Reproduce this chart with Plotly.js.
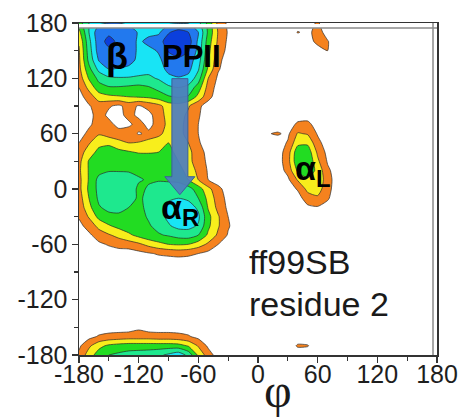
<!DOCTYPE html>
<html>
<head>
<meta charset="utf-8">
<script src="https://cdn.plot.ly/plotly-3.0.1.min.js"></script>
<style>
  html, body { margin: 0; padding: 0; background: #ffffff; }
  #plot { width: 462px; height: 419px; }
</style>
</head>
<body>
<div id="plot"></div>
<script>
// Backbone dihedral grid (degrees)
const phiGrid = [-180, -170, -160, -150, -140, -130, -120, -110, -100, -90, -80, -70, -60, -50, -40, -30, -20,
                 20, 30, 40, 50, 60, 70, 80];
const psiGrid = [180, 170, 160, 150, 140, 130, 120, 110, 100, 90, 80, 70, 60, 50, 40, 30, 20, 10, 0,
                 -10, -20, -30, -40, -50, -60, -70, -80, -90, -100, -110, -120, -130, -140, -150, -160, -170, -180];

// Population level at each (psi, phi) grid node, one row per psi value (top row psi = 180)
const populationLevel = [
  [3.0,4.5,5.3,5.5,5.5,5.3,5.2,5.0,5.0,5.3,5.4,5.4,4.8,3.2,1.2,0.3,0, 0,0,0,0.2,0.6,0,0],
  [2.2,4.5,6.2,6.3,6.3,6.0,5.4,5.2,5.3,6.4,6.9,6.5,5.5,3.3,1.4,0.4,0, 0,0,0.55,0.3,0.8,0.2,0],
  [1.6,4.2,6.1,6.8,6.3,6.1,5.3,5.8,6.1,7.0,7.5,7.0,5.3,3.0,1.3,0.3,0, 0,0,0,0.2,0.7,0.55,0],
  [1.4,4.0,6.0,6.3,6.3,6.1,5.3,5.2,5.6,6.6,7.0,6.6,5.2,2.8,1.1,0.2,0, 0,0,0,0,0.2,0.5,0],
  [1.3,3.8,5.6,6.2,6.2,6.0,5.2,5.0,5.3,6.0,6.3,6.0,5.0,2.6,0.8,0,0, 0,0,0,0,0,0,0],
  [1.2,3.2,4.8,5.5,5.4,5.2,5.0,4.8,5.0,5.8,6.1,5.8,4.6,2.3,0.6,0,0, 0,0,0,0,0,0,0],
  [0.9,2.6,3.8,4.3,4.4,4.4,4.3,4.3,4.6,5.2,5.4,5.2,4.0,1.5,0.3,0,0, 0,0,0,0,0,0,0],
  [0.5,1.8,3.1,3.4,3.4,3.3,3.2,3.4,3.8,4.3,4.5,4.2,3.0,1.1,0.1,0,0, 0,0,0,0,0,0,0],
  [0.1,1.0,2.0,2.3,2.4,2.5,2.6,2.7,3.0,3.4,3.6,3.4,2.2,0.8,0,0,0, 0,0,0,0,0,0,0],
  [0,0.4,1.0,0.6,0.3,0.9,0.4,0.8,1.2,2.0,2.1,1.6,0.7,0.1,0,0,0, 0,0,0,0,0,0,0],
  [0,0.2,0.9,0.3,0.2,0.8,0.3,0.2,1.0,1.9,1.9,1.3,0.6,0,0,0,0, 0,0,0,0,0,0,0],
  [0,0.3,1.0,0.8,0.2,0.3,0.9,0.2,0.9,1.8,1.8,1.2,0.5,0,0,0,0, 0,0,0.7,0.8,0,0,0],
  [0,0.8,1.4,1.0,0.9,1.1,0.4,0.7,1.2,2.0,1.8,1.2,0.5,0,0,0,0, 0.6,0.3,1.6,1.4,0.4,0,0],
  [0.5,1.4,2.2,2.3,1.8,1.5,1.6,2.0,2.2,2.5,2.3,1.5,0.6,0.1,0,0,0, 0,0.6,2.2,2.3,0.8,0,0],
  [1.0,2.0,2.8,3.0,2.8,2.6,2.4,2.4,2.5,2.6,2.4,1.8,0.9,0.2,0,0,0, 0,1.0,3.2,3.1,1.3,0.2,0],
  [1.2,2.6,3.3,3.4,3.4,3.3,3.3,3.2,3.1,2.8,2.5,1.8,1.0,0.3,0,0,0, 0,1.1,3.3,3.4,1.7,0.4,0],
  [1.3,2.6,3.2,3.4,3.4,3.4,3.3,3.3,3.2,3.0,2.8,2.2,1.2,0.4,0,0,0, 0,0.8,2.7,3.2,2.2,0.7,0],
  [1.2,2.6,3.8,4.3,4.3,4.0,3.6,3.4,3.4,3.3,3.2,2.5,1.5,0.5,0,0,0, 0,0.3,1.6,2.3,2.3,0.9,0],
  [1.2,2.7,3.8,4.4,4.4,4.1,3.3,3.6,4.0,4.2,4.2,3.9,3.0,1.8,0.8,0,0, 0,0,0.6,1.8,2.0,0.8,0],
  [1.0,2.5,3.7,4.3,4.3,4.1,3.3,3.8,4.2,4.4,4.5,4.3,3.5,2.2,1.0,0.2,0, 0,0,0.1,1.0,1.3,0.6,0],
  [0.8,2.2,3.4,3.8,3.8,3.5,3.3,3.7,4.3,4.7,5.0,5.0,4.3,2.4,1.2,0.3,0, 0,0,0,0.3,0.4,0.2,0],
  [0.6,1.6,2.8,3.2,3.3,3.2,3.2,3.6,4.2,4.7,5.3,5.4,4.7,2.8,1.6,0.5,0, 0,0,0,0,0,0,0],
  [0.2,0.9,1.8,2.4,2.8,3.1,3.2,3.4,3.8,4.4,4.8,4.8,4.4,2.7,1.6,0.6,0, 0,0,0,0,0,0,0],
  [0,0.3,1.0,1.4,1.8,2.3,2.8,3.2,3.4,3.6,3.9,4.0,3.5,2.3,1.3,0.4,0, 0,0,0,0,0,0,0],
  [0,0,0.3,0.6,0.9,1.0,1.3,1.8,2.2,2.5,2.6,2.5,2.0,1.3,0.5,0,0, 0,0,0,0,0,0,0],
  [0,0,0,0,0,0,0.2,0.4,0.6,0.7,0.8,0.7,0.5,0.2,0,0,0, 0,0,0,0,0,0,0],
  [0,0,0,0,0,0,0,0,0,0,0,0,0,0,0,0,0, 0,0,0,0,0,0,0],
  [0,0,0,0,0,0,0,0,0,0,0,0,0,0,0,0,0, 0,0,0,0,0,0,0],
  [0,0,0,0,0,0,0,0,0,0,0,0,0,0,0,0,0, 0,0,0,0,0,0,0],
  [0,0,0,0,0,0,0,0,0,0,0,0,0,0,0,0,0, 0,0,0,0,0,0,0],
  [0,0,0,0,0,0,0,0,0,0,0,0,0,0,0,0,0, 0,0,0,0,0,0,0],
  [0,0,0,0,0,0,0,0,0,0,0,0,0,0,0,0,0, 0,0,0,0,0,0,0],
  [0,0,0,0,0,0,0,0,0,0,0,0,0,0,0,0,0, 0,0,0,0,0,0,0],
  [0,0,0,0,0,0,0.3,0,0,0,0,0,0,0,0,0,0, 0,0,0,0,0,0,0],
  [0,0.2,0.6,0.8,0.9,1.0,1.0,1.0,0.9,0.9,0.8,0.6,0.2,0,0,0,0, 0,0,0,0,0,0,0],
  [0.3,1.3,2.2,2.7,2.9,3.0,3.0,3.0,3.0,3.0,2.9,2.4,1.4,0.3,0,0,0, 0,0,0.6,0.55,0,0,0],
  [0.7,2.0,3.0,3.5,3.7,3.9,4.0,4.1,4.3,4.7,5.2,4.2,2.3,1.0,0,0,0, 0,0,0,0,0,0,0]
];

const axisTicks = [-180, -120, -60, 0, 60, 120, 180];
const axisTickText = ['-180', '-120', '-60', '0', '60', '120', '180'];

// Filled bands, from the empty background up to the most populated basin
const levelColors = ['#ffffff', '#f5821e', '#f8ee1c', '#22dc22', '#1ee88e', '#18e4f5', '#2279ee', '#0b3fdc'];
const colorscale = levelColors.map((c, i) => [i / (levelColors.length - 1), c]);

const trace = {
  type: 'contour',
  x: phiGrid,
  y: psiGrid,
  z: populationLevel,
  autocontour: false,
  contours: { start: 0.5, end: 6.5, size: 1, coloring: 'fill', showlines: true },
  line: { color: '#2a2a2a', width: 0.7, smoothing: 0.6 },
  colorscale: colorscale,
  zmin: 0, zmax: 7,
  showscale: false,
  hoverinfo: 'skip'
};

const tickFont = { family: 'Liberation Sans, Arial, sans-serif', size: 25, color: '#1e1e1e' };
const labelFont = (size) => ({ family: 'Liberation Sans, Arial, sans-serif', size: size, color: '#000000', weight: 'bold' });

const axisCommon = {
  range: [-180, 180],
  tickmode: 'array',
  tickvals: axisTicks,
  ticktext: axisTickText,
  ticks: 'outside',
  ticklen: 6,
  tickwidth: 1.5,
  tickcolor: '#333333',
  minor: { dtick: 30, ticks: 'outside', ticklen: 4, tickwidth: 1.2, tickcolor: '#333333', tick0: 0 },
  showline: true,
  linecolor: '#333333',
  linewidth: 1.5,
  mirror: true,
  showgrid: false,
  zeroline: false,
  tickfont: tickFont,
  fixedrange: true
};

const layout = {
  width: 462,
  height: 419,
  margin: { l: 79, r: 25, t: 23, b: 64 },
  paper_bgcolor: '#ffffff',
  plot_bgcolor: '#ffffff',
  showlegend: false,
  xaxis: Object.assign({}, axisCommon, { ticklabelstandoff: -10 }),
  yaxis: Object.assign({}, axisCommon, { ticklabelstandoff: -1 }),
  shapes: [
    // inner frame: white margin strip plus grey rule along top and right
    { type: 'rect', xref: 'paper', x0: 0, x1: 1, yref: 'paper', ysizemode: 'pixel', yanchor: 1, y0: -5, y1: -1,
      fillcolor: '#ffffff', line: { width: 0 }, layer: 'above' },
    { type: 'line', xref: 'paper', x0: 0, x1: 1, yref: 'paper', ysizemode: 'pixel', yanchor: 1, y0: -5, y1: -5,
      line: { color: '#8a8a8a', width: 1.5 }, layer: 'above' },
    { type: 'line', xref: 'paper', xsizemode: 'pixel', xanchor: 1, x0: -4, x1: -4, yref: 'paper', y0: 0, y1: 1,
      line: { color: '#8a8a8a', width: 1.5 }, layer: 'above' },
    // PPII -> alpha_R transition arrow
    { type: 'path', xref: 'x', yref: 'y', layer: 'above',
      path: 'M -86.6,119.7 L -70.5,119.7 L -70.5,13.3 L -63.5,13.3 L -78.6,-6.2 L -93.7,13.3 L -86.6,13.3 Z',
      fillcolor: 'rgba(79,125,190,0.93)', line: { color: '#3b6197', width: 1 } }
  ],
  annotations: [
    { xref: 'x', yref: 'y', x: -141.8, y: 144, text: 'β', showarrow: false, font: labelFont(36) },
    { xref: 'x', yref: 'y', x: -66.9, y: 144, text: 'PPII', showarrow: false, font: labelFont(31) },
    { xref: 'x', yref: 'y', x: -78.4, y: -22, text: 'α<sub>R</sub>', showarrow: false, font: labelFont(34) },
    { xref: 'x', yref: 'y', x: 54.8, y: 20.5, text: 'α<sub>L</sub>', showarrow: false, font: labelFont(34) },
    { xref: 'x', yref: 'y', x: -11.1, y: -79, xanchor: 'left', text: 'ff99SB', showarrow: false,
      font: { family: 'Liberation Sans, Arial, sans-serif', size: 34, color: '#1a1a1a' } },
    { xref: 'x', yref: 'y', x: -11.1, y: -124.7, xanchor: 'left', text: 'residue 2', showarrow: false,
      font: { family: 'Liberation Sans, Arial, sans-serif', size: 34, color: '#1a1a1a' } },
    { xref: 'paper', yref: 'paper', x: 0.556, y: -0.19, yanchor: 'bottom', borderpad: 0, text: 'φ', showarrow: false,
      font: { family: 'Liberation Serif, Times New Roman, serif', size: 48, color: '#1a1a1a' } }
  ]
};

Plotly.newPlot('plot', [trace], layout, { staticPlot: true, displayModeBar: false });
</script>
</body>
</html>
